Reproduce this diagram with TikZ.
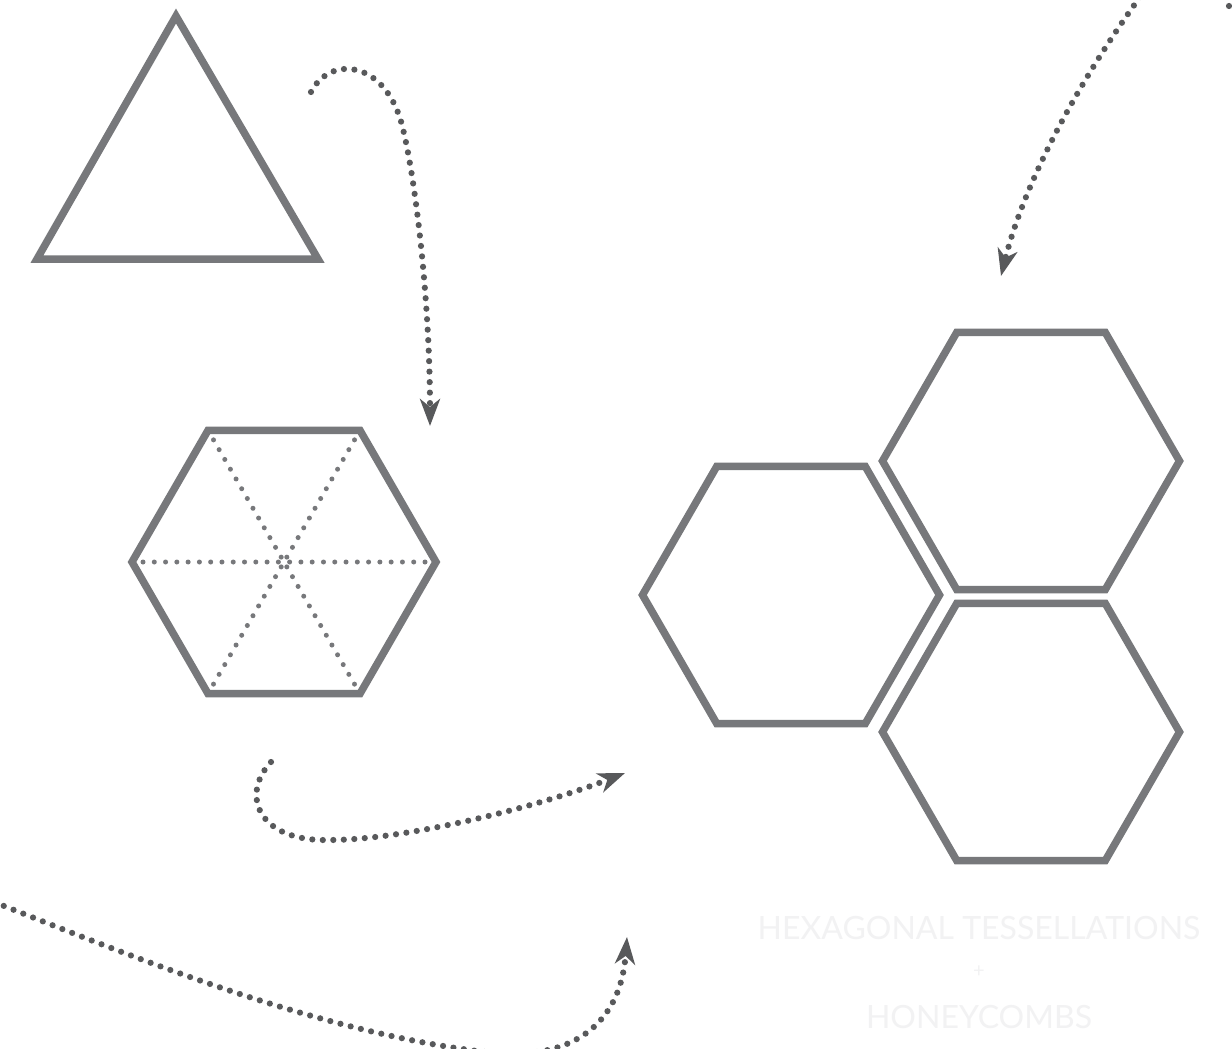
\documentclass[tikz,border=0pt]{standalone}
\usepackage{fontspec}
\setmainfont{Lato}
\usetikzlibrary{arrows.meta}
\definecolor{shapegrey}{RGB}{119,120,123}
\definecolor{flowgrey}{RGB}{88,89,91}
\definecolor{captiongrey}{RGB}{242,242,243}
\tikzset{
  outline/.style={draw=shapegrey, line width=7.5pt, line join=miter},
  spoke/.style={draw=shapegrey, line width=5pt, line cap=round, dash pattern=on 0pt off 11.28pt},
  flowline/.style={draw=flowgrey, line width=6.2pt, line cap=round, dash pattern=on 0pt off 10.5pt},
  flow/.style={flowline, -{Stealth[length=27pt, width=20pt, inset=8pt]}},
  caption/.style={text=captiongrey, font=\fontsize{32}{36}\selectfont, inner sep=0pt},
}

\begin{document}
\begin{tikzpicture}[x=1pt, y=-1pt]

\useasboundingbox (0,0) rectangle (1232,1049);
\fill[white] (0,0) rectangle (1232,1049);
\clip (0,0) rectangle (1232,1049);

% Triangle
\coordinate (triapex) at (176,16);
\coordinate (triright) at (318,259);
\coordinate (trileft) at (37,259);
\draw[outline] (triapex) -- (triright) -- (trileft) -- cycle;

% Single hexagon split into six triangles
\coordinate (unithex) at (284,562);
\draw[outline, shift={(unithex)}] (0:152) -- (60:152) -- (120:152) -- (180:152) -- (240:152) -- (300:152) -- cycle;
\foreach \a in {0,60,120}
  \draw[spoke, shift={(unithex)}] (\a:141) -- (\a+180:141);

% Three hexagons of the tessellation
\coordinate (combleft) at (791,595);
\coordinate (combtop) at (1031,461);
\coordinate (combbottom) at (1031,732);
\foreach \c in {combleft,combtop,combbottom}
  \draw[outline, shift={(\c)}] (0:148.5) -- (60:148.5) -- (120:148.5) -- (180:148.5) -- (240:148.5) -- (300:148.5) -- cycle;

% Dotted arrows
\coordinate (trisrc) at (311,92);
\coordinate (hexsink) at (430,426);
\draw[flow] (trisrc) .. controls (330,55) and (385,60) .. (402,125)
  .. controls (415,175) and (430,300) .. (hexsink);

\coordinate (offtop) at (1140,-3);
\coordinate (combsink) at (1001,276);
\draw[flow] (offtop) .. controls (1080,80) and (1025,180) .. (combsink);

\coordinate (offright) at (1229,6);
\draw[flowline] (offright) -- ++(20,-12);

\coordinate (hexsrc) at (271,762);
\coordinate (combin) at (625,773);
\draw[flow] (hexsrc) .. controls (240,795) and (258,842) .. (330,840)
  .. controls (400,840) and (530,810) .. (combin);

\coordinate (offleft) at (-6,902);
\coordinate (belowsink) at (627,937);
\draw[flow] (offleft) .. controls (150,964) and (320,1032) .. (485,1052)
  .. controls (565,1062) and (620,1030) .. (belowsink);

% Caption
\node[caption, anchor=base] (capline) at (979,939) {HEXAGONAL TESSELLATIONS};
\node[caption, font=\fontsize{20}{24}\selectfont] (capplus) at (979,972) {+};
\node[caption, anchor=base] (capname) at (979,1028) {HONEYCOMBS};

\end{tikzpicture}
\end{document}
